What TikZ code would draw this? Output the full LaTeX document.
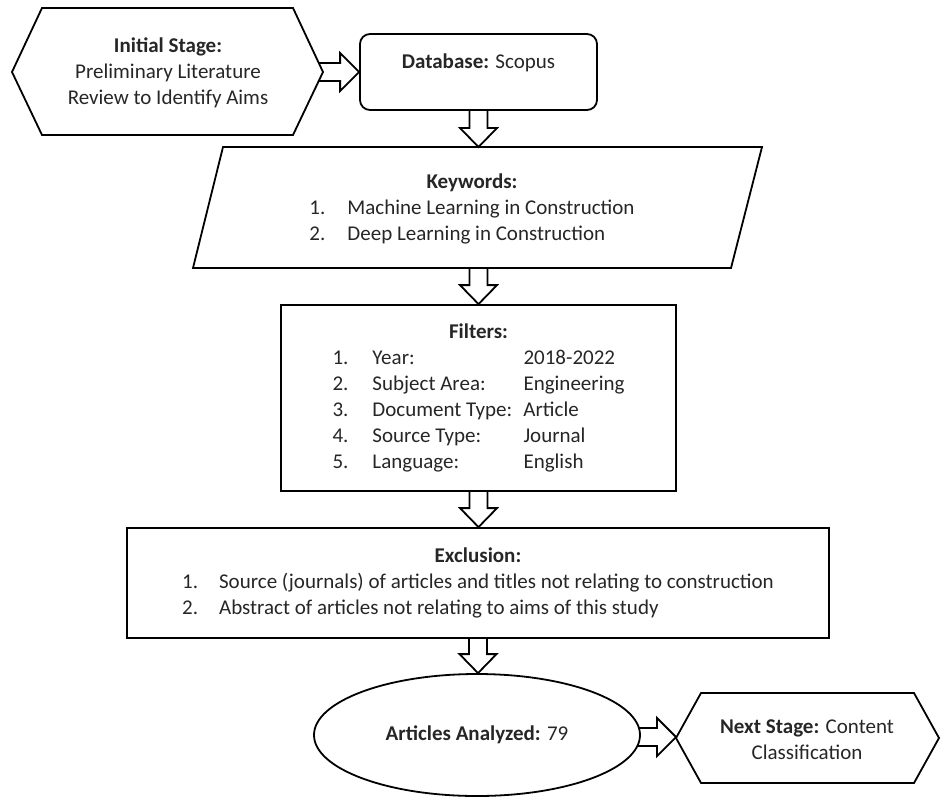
\documentclass[tikz,border=0pt]{standalone}
\usepackage{fontspec}
\setmainfont{Carlito}
\usetikzlibrary{calc}
\usetikzlibrary{shapes.geometric}
\tikzset{
	linestyle/.style={draw=black,line width=1.8pt,line join=miter},
	boxstyle/.style={rectangle,linestyle,inner sep=0pt},
	roundstyle/.style={boxstyle,rounded corners=10pt},
	ovalstyle/.style={ellipse,linestyle,inner sep=0pt},
	textstyle/.style={align=center,inner sep=0pt,text=black!85,font=\fontsize{21}{26}\selectfont}
}
\newcommand{\hollowdown}[2]{%
	\draw[linestyle] let \p1=(#1), \p2=(#2) in
		(\x1-9pt,\y1) -- (\x1-9pt,\y2+19pt) -- (\x1-18.5pt,\y2+19pt) -- (\x1,\y2)
		-- (\x1+18.5pt,\y2+19pt) -- (\x1+9pt,\y2+19pt) -- (\x1+9pt,\y1);}
\newcommand{\hollowright}[2]{%
	\draw[linestyle] let \p1=(#1), \p2=(#2) in
		(\x1,\y2+9pt) -- (\x2-19pt,\y2+9pt) -- (\x2-19pt,\y2+19pt) -- (\x2,\y2)
		-- (\x2-19pt,\y2-19pt) -- (\x2-19pt,\y2-9pt) -- (\x1,\y2-9pt);}

\begin{document}
\begin{tikzpicture}[x=1pt,y=-1pt]
	\useasboundingbox (0,0) rectangle (941,797);
	% initial stage hexagon
	\node[textstyle] (init) at (168,73) {\textbf{Initial Stage:}\\Preliminary Literature\\Review to Identify Aims};
	\draw[linestyle] (12,72) -- (42,8) -- (293,8) -- (323,72) -- (293,135) -- (42,135) -- cycle;
	\coordinate (init-e) at (318.7,72);
	% database
	\node[roundstyle,textstyle,minimum width=237,minimum height=76] (db) at (478.5,72)
		{\raisebox{9pt}[\height][\depth]{\textbf{Database:} Scopus}};
	% keywords parallelogram
	\node[textstyle] (kw) at (472,209) {\begin{tabular}{@{}l@{}}
		\multicolumn{1}{@{}c@{}}{\textbf{Keywords:}}\\
		\makebox[38pt][l]{1.}Machine Learning in Construction\\
		\makebox[38pt][l]{2.}Deep Learning in Construction
		\end{tabular}};
	\draw[linestyle] (223,147) -- (762,147) -- (731,268) -- (193,268) -- cycle;
	\coordinate (kw-n) at (478.5,147);
	\coordinate (kw-s) at (478.5,268);
	% filters
	\node[boxstyle,textstyle,minimum width=395,minimum height=186] (filters) at (478.5,398)
		{\begin{tabular}{@{}l@{}}
		\multicolumn{1}{@{}c@{}}{\textbf{Filters:}}\\
		\makebox[40pt][l]{1.}\makebox[151pt][l]{Year:}2018-2022\\
		\makebox[40pt][l]{2.}\makebox[151pt][l]{Subject Area:}Engineering\\
		\makebox[40pt][l]{3.}\makebox[151pt][l]{Document Type:}Article\\
		\makebox[40pt][l]{4.}\makebox[151pt][l]{Source Type:}Journal\\
		\makebox[40pt][l]{5.}\makebox[151pt][l]{Language:}English
		\end{tabular}};
	% exclusion
	\node[boxstyle,textstyle,minimum width=702,minimum height=110] (excl) at (478,583)
		{\begin{tabular}{@{}l@{}}
		\multicolumn{1}{@{}c@{}}{\textbf{Exclusion:}}\\
		\makebox[37pt][l]{1.}Source (journals) of articles and titles not relating to construction\\
		\makebox[37pt][l]{2.}Abstract of articles not relating to aims of this study
		\end{tabular}};
	% articles analyzed
	\node[ovalstyle,textstyle,minimum width=326,minimum height=122] (ell) at (477,735)
		{\textbf{Articles Analyzed:} 79};
	\coordinate (ell-e) at (638,737);
	% next stage hexagon
	\node[textstyle] (next) at (807,740) {\textbf{Next Stage:} Content\\Classification};
	\draw[linestyle] (676,738) -- (701,693) -- (914,693) -- (939,738) -- (914,783) -- (701,783) -- cycle;
	\coordinate (next-w) at (676,737);
	% block arrows
	\hollowright{init-e}{db.west}
	\hollowdown{db.south}{kw-n}
	\hollowdown{kw-s}{filters.north}
	\hollowdown{filters.south}{excl.north}
	\hollowdown{excl.south}{ell.north}
	\hollowright{ell-e}{next-w}
\end{tikzpicture}
\end{document}
